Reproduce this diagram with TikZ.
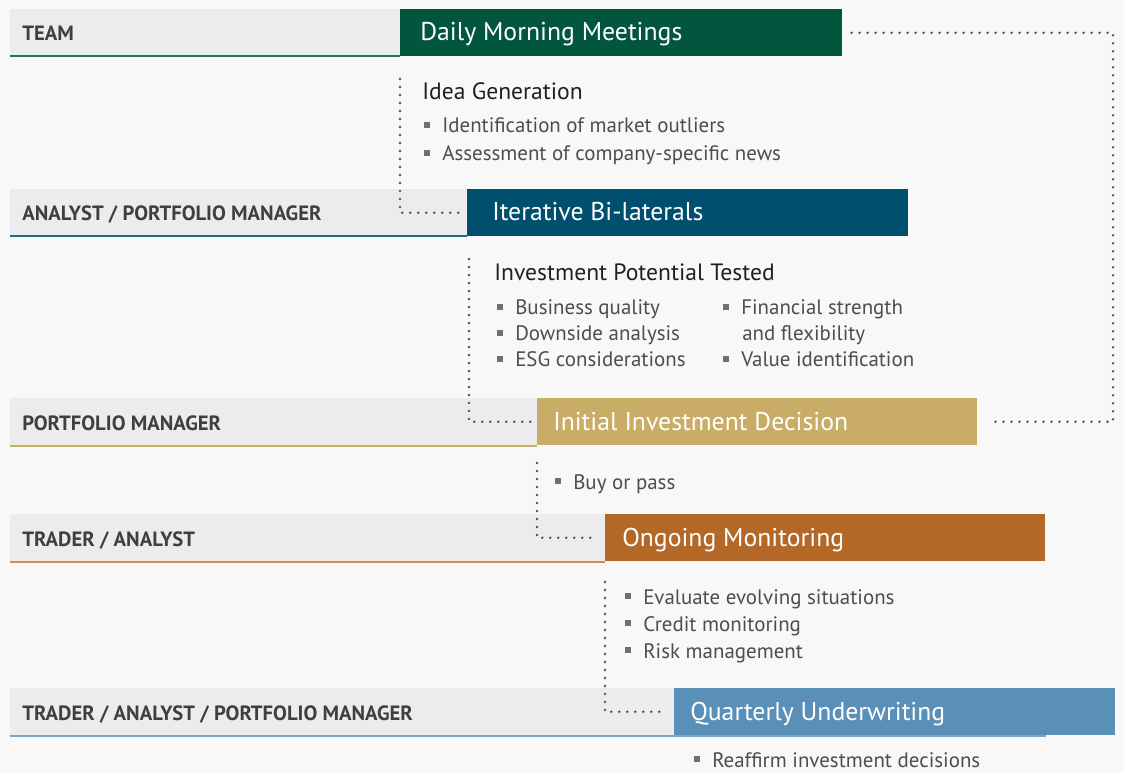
\documentclass[tikz,border=0pt]{standalone}
\usepackage{fontspec}
\setmainfont{PT Sans}
\usetikzlibrary{calc}
\newdimen\pxu \pxu=0.75pt
\definecolor{bgc}{HTML}{F8F8F8}
\definecolor{bandc}{HTML}{ECECEE}
\definecolor{cgreen}{HTML}{02563E}
\definecolor{cblue}{HTML}{004F6F}
\definecolor{cgold}{HTML}{C9AD66}
\definecolor{corange}{HTML}{B46828}
\definecolor{clblue}{HTML}{5A8FB8}
\definecolor{labc}{HTML}{3F3F41}
\definecolor{headc}{HTML}{231F20}
\definecolor{bulc}{HTML}{4D4D4F}
\definecolor{sqc}{HTML}{707072}
\definecolor{dotc}{HTML}{505052}
\newcommand{\bsq}{\textcolor{sqc}{\rule[3.5pt]{4.5pt}{4.5pt}}\hspace{9pt}}
\begin{document}
\begin{tikzpicture}[x=0.75pt,y=-0.75pt,
  band/.style={fill=bandc, inner sep=0pt, minimum height=47\pxu, anchor=north west},
  stagebox/.style={inner sep=0pt, minimum height=47\pxu, anchor=north west},
  blabel/.style={anchor=base west, inner sep=0pt, text=labc, font=\fontsize{15.5}{18}\selectfont\bfseries},
  stitle/.style={anchor=base west, inner sep=0pt, text=white, font=\fontsize{19.3}{22}\selectfont},
  head/.style={anchor=base west, inner sep=0pt, text=headc, font=\fontsize{17.7}{21}\selectfont},
  bul/.style={anchor=base west, inner sep=0pt, text=bulc, font=\fontsize{15.7}{19}\selectfont},
  dots/.style={draw=dotc, line width=2.6\pxu, line cap=round, dash pattern=on 0pt off 8\pxu}
]
\clip (0,0) rectangle (1124,773);
\fill[bgc] (0,0) rectangle (1124,773);

% bands
\node[band, minimum width=390\pxu] (g1) at (10,9) {};
\node[band, minimum width=457\pxu] (g2) at (10,189) {};
\node[band, minimum width=527\pxu] (g3) at (10,398) {};
\node[band, minimum width=595\pxu] (g4) at (10,514) {};
\node[band, minimum width=664\pxu] (g5) at (10,688) {};
\fill[cgreen!85] (10,55.5) rectangle (400,57.5);
\fill[cblue!85] (10,235.5) rectangle (467,237.5);
\fill[cgold] (10,444.5) rectangle (537,446.5);
\fill[corange!75] (10,560.5) rectangle (605,562.5);
\fill[clblue!80] (10,734.5) rectangle (1046,736.5);

% stage boxes
\node[stagebox, fill=cgreen, minimum width=442\pxu] (b1) at (400,9) {};
\node[stagebox, fill=cblue, minimum width=441\pxu] (b2) at (467,189) {};
\node[stagebox, fill=cgold, minimum width=440\pxu] (b3) at (537,398) {};
\node[stagebox, fill=corange, minimum width=440\pxu] (b4) at (605,514) {};
\node[stagebox, fill=clblue, minimum width=441\pxu] (b5) at (674,688) {};

% band labels
\node[blabel] (l1) at (22,41) {TEAM};
\node[blabel] (l2) at (22,221) {ANALYST / PORTFOLIO MANAGER};
\node[blabel] (l3) at (22,430) {PORTFOLIO MANAGER};
\node[blabel] (l4) at (22,546) {TRADER / ANALYST};
\node[blabel] (l5) at (22,720) {TRADER / ANALYST / PORTFOLIO MANAGER};

% stage titles
\node[stitle] (t1) at (420,41) {Daily Morning Meetings};
\node[stitle] (t2) at (492,221) {Iterative Bi-laterals};
\node[stitle] (t3) at (553,430) {Initial Investment Decision};
\node[stitle] (t4) at (622,546) {Ongoing Monitoring};
\node[stitle] (t5) at (690,720) {Quarterly Underwriting};

% step 1 text
\node[head] (h1) at (422,100) {Idea Generation};
\node[bul] (i1) at (424,133) {\bsq Identification of market outliers};
\node[bul] (i2) at (424,161) {\bsq Assessment of company-specific news};

% step 2 text
\node[head] (h2) at (494,281) {Investment Potential Tested};
\node[bul] (p1) at (497,315) {\bsq Business quality};
\node[bul] (p2) at (497,341) {\bsq Downside analysis};
\node[bul] (p3) at (497,367) {\bsq ESG considerations};
\node[bul] (p4) at (723,315) {\bsq Financial strength};
\node[bul] (p5) at (742,341) {and flexibility};
\node[bul] (p6) at (723,367) {\bsq Value identification};

% step 3 text
\node[bul] (d1) at (555,489) {\bsq Buy or pass};

% step 4 text
\node[bul] (m1) at (625,604) {\bsq Evaluate evolving situations};
\node[bul] (m2) at (625,631) {\bsq Credit monitoring};
\node[bul] (m3) at (625,658) {\bsq Risk management};

% step 5 text
\node[bul] (q1) at (694,767) {\bsq Reaffirm investment decisions};

% connectors
\coordinate (s1) at (400,79);
\coordinate (s3) at (469,259);
\coordinate (s4) at (537,463);
\coordinate (s5) at (605,582);
\coordinate (cr) at (1113,200);
\draw[dots] (s1) |- ([xshift=-6\pxu]b2.west);
\draw[dots] (s3) |- ([xshift=-5\pxu]b3.west);
\draw[dots] (s4) |- ([xshift=-7\pxu]b4.west);
\draw[dots] (s5) |- ([xshift=-7\pxu]b5.west);
\draw[dots] ([xshift=9\pxu]b1.east) -| (cr) |- ([xshift=10\pxu]b3.east);
\end{tikzpicture}
\end{document}
